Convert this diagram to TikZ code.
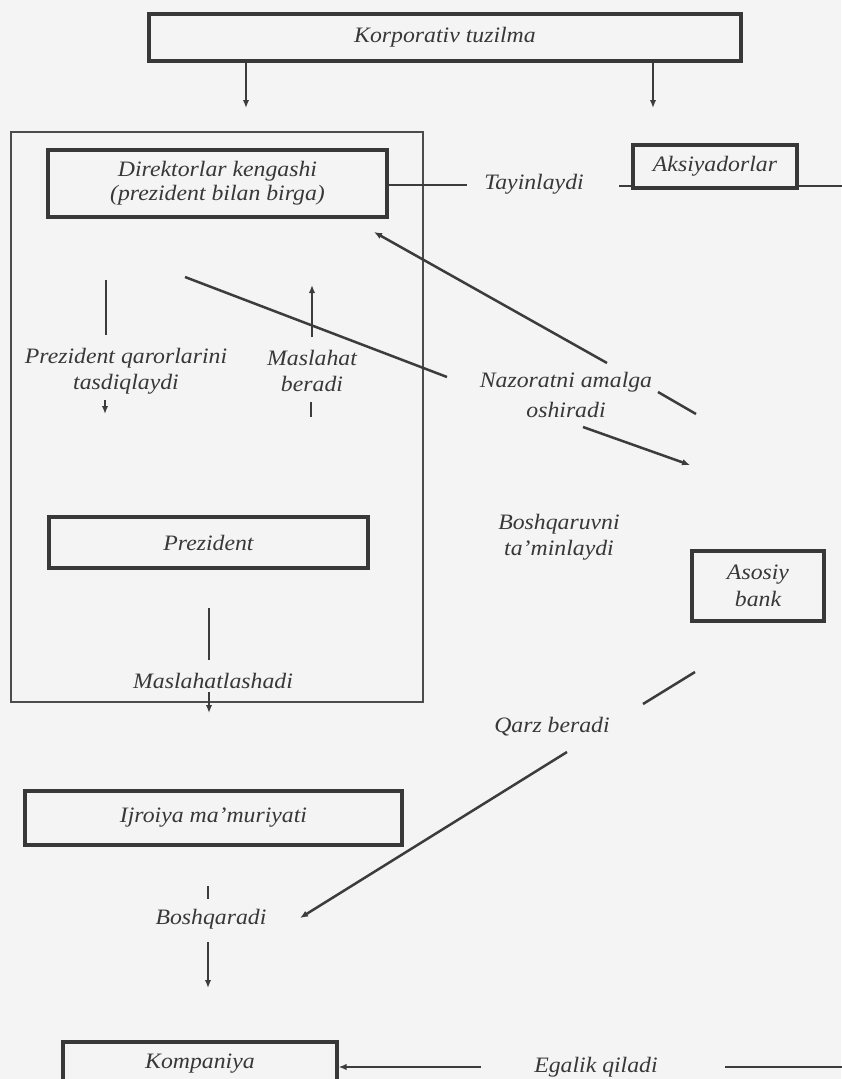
\documentclass[tikz,border=0pt]{standalone}
\usepackage{fontspec}
\newfontfamily\lab{Liberation Serif}[FakeStretch=1.08]
\usetikzlibrary{arrows.meta}
\definecolor{boxc}{HTML}{383838}
\definecolor{linec}{HTML}{3C3C3C}
\definecolor{txtc}{HTML}{383838}
\definecolor{bgc}{HTML}{F4F4F4}
\tikzset{
  box/.style={draw=boxc, line width=3.2pt, inner sep=0pt, text=txtc, align=center,
    font=\lab\itshape\fontsize{22}{24}\selectfont},
  grpbox/.style={draw=boxc!90, line width=1.6pt, inner sep=0pt},
  lbl/.style={text=txtc, inner sep=0pt, align=center,
    font=\lab\itshape\fontsize{22}{26}\selectfont},
  conn/.style={draw=linec, line width=2.5pt},
  arr/.style={conn, -{Latex[length=8pt,width=6.5pt]}}
}
\begin{document}
\begin{tikzpicture}[x=1pt,y=-1pt]
\useasboundingbox (0,0) rectangle (841,1079);
\fill[bgc] (0,0) rectangle (841,1079);

% container
\node[grpbox, minimum width=412pt, minimum height=570pt] (grp) at (217,417) {};

% boxes
\node[box, minimum width=592pt, minimum height=47pt] (korp) at (445,37.5) {Korporativ tuzilma};
\node[box, minimum width=339pt, minimum height=67pt] (direk) at (217.5,183.5) {Direktorlar kengashi\\(prezident bilan birga)};
\node[box, minimum width=164pt, minimum height=43pt] (aksi) at (715,166.5) {Aksiyadorlar};
\node[box, minimum width=319pt, minimum height=51pt] (prez) at (208.5,542.5) {Prezident};
\node[box, minimum width=132pt, minimum height=70pt, font=\lab\itshape\fontsize{22}{27}\selectfont] (bank) at (758,586) {Asosiy\\bank};
\node[box, minimum width=377pt, minimum height=54pt] (ijro) at (213.5,818) {Ijroiya ma’muriyati};
\node[box, minimum width=274pt, minimum height=44pt] (komp) at (200,1064) {Kompaniya};

% labels
\node[lbl] (tayin) at (534,184) {Tayinlaydi};
\node[lbl] (pqt) at (126,371) {Prezident qarorlarini\\tasdiqlaydi};
\node[lbl] (masl) at (312,371) {Maslahat\\beradi};
\node[lbl, font=\lab\itshape\fontsize{22}{30}\selectfont] (nazor) at (566,395) {Nazoratni amalga\\oshiradi};
\node[lbl] (bosht) at (559,537) {Boshqaruvni\\ta’minlaydi};
\node[lbl] (maslsh) at (213,681) {Maslahatlashadi};
\node[lbl] (qarz) at (552,727) {Qarz beradi};
\node[lbl] (boshq) at (211,919) {Boshqaradi};
\node[lbl] (egal) at (596,1067) {Egalik qiladi};

% korporativ arrows
\coordinate (ka) at (246,108);
\coordinate (kb) at (653,108);
\draw[arr] (korp.south -| ka) -- (ka);
\draw[arr] (korp.south -| kb) -- (kb);

% tayinlaydi
\coordinate (t1) at (467,185);
\draw[conn] (direk.east |- t1) -- (t1);
\coordinate (t2) at (619,186);
\draw[conn] (t2) -- (aksi.west |- t2);
\coordinate (t3) at (845,186);
\draw[conn] (aksi.east |- t3) -- (t3);

% nazorat lines
\coordinate (n1a) at (696,414);
\coordinate (n1b) at (658,392);
\coordinate (n1c) at (607,363);
\coordinate (n1d) at (374,232);
\draw[conn] (n1a) -- (n1b);
\draw[arr] (n1c) -- (n1d);
\coordinate (n2a) at (185,277);
\coordinate (n2b) at (447,377);
\coordinate (n2c) at (583,427);
\coordinate (n2d) at (690,465);
\draw[conn] (n2a) -- (n2b);
\draw[arr] (n2c) -- (n2d);

% prezident qarorlarini
\coordinate (p1) at (106,280);
\coordinate (p2) at (106,335);
\draw[conn] (p1) -- (p2);
\coordinate (p3) at (105,400);
\coordinate (p4) at (105,414);
\draw[arr] (p3) -- (p4);

% maslahat beradi
\coordinate (m1) at (312,337);
\coordinate (m2) at (312,285);
\draw[arr] (m1) -- (m2);
\coordinate (m3) at (311,402);
\coordinate (m4) at (311,417);
\draw[conn] (m3) -- (m4);

% maslahatlashadi
\coordinate (q1) at (209,608);
\coordinate (q2) at (209,660);
\draw[conn] (q1) -- (q2);
\coordinate (q3) at (209,692);
\coordinate (q4) at (209,713);
\draw[arr] (q3) -- (q4);

% qarz beradi
\coordinate (b1) at (695,672);
\coordinate (b2) at (643,704);
\coordinate (b3) at (567,752);
\coordinate (b4) at (300,918);
\draw[conn] (b1) -- (b2);
\draw[arr] (b3) -- (b4);

% boshqaradi
\coordinate (i1) at (208,886);
\coordinate (i2) at (208,899);
\draw[conn] (i1) -- (i2);
\coordinate (i3) at (208,942);
\coordinate (i4) at (208,988);
\draw[arr] (i3) -- (i4);

% egalik qiladi
\coordinate (e1) at (481,1067);
\draw[arr] (e1) -- (komp.east |- e1);
\coordinate (e2) at (725,1067);
\coordinate (e3) at (845,1067);
\draw[conn] (e2) -- (e3);
\end{tikzpicture}
\end{document}
